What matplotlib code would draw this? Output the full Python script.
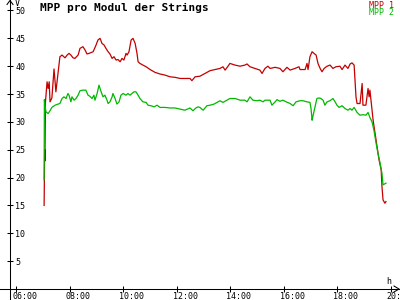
import matplotlib
matplotlib.use("Agg")
import matplotlib.pyplot as plt
from matplotlib.lines import Line2D
from matplotlib.transforms import ScaledTranslation

# ---- data ----
red_t = [7.05, 7.06, 7.07, 7.08, 7.10, 7.16, 7.20, 7.24, 7.27, 7.34, 7.42, 7.49, 7.57, 7.64, 7.72, 7.83,
         7.91, 7.98, 8.05, 8.13, 8.20, 8.32, 8.39, 8.50, 8.58, 8.65, 8.73, 8.88, 8.99, 9.06, 9.14, 9.21,
         9.29, 9.36, 9.44, 9.51, 9.59, 9.66, 9.74, 9.81, 9.89, 9.96, 10.03, 10.11, 10.15, 10.22, 10.30,
         10.37, 10.45, 10.52, 10.56, 10.63, 10.74, 10.86, 11.01, 11.19, 11.38, 11.57, 11.75, 11.94, 12.13,
         12.31, 12.50, 12.57, 12.69, 12.87, 13.06, 13.25, 13.43, 13.62, 13.73, 13.81, 13.92, 13.99, 14.18,
         14.37, 14.55, 14.63, 14.74, 14.93, 15.11, 15.19, 15.30, 15.41, 15.49, 15.68, 15.86, 15.97, 16.12,
         16.24, 16.42, 16.57, 16.61, 16.80, 16.87, 16.91, 16.98, 17.06, 17.13, 17.21, 17.28, 17.36, 17.43,
         17.51, 17.62, 17.73, 17.84, 17.95, 18.10, 18.18, 18.29, 18.40, 18.48, 18.55, 18.63, 18.70, 18.74,
         18.85, 18.93, 18.96, 19.07, 19.15, 19.19, 19.22, 19.30, 19.34, 19.41, 19.49, 19.56, 19.64, 19.67,
         19.71, 19.78, 19.82]
red_v = [15.0, 19.6, 25.0, 23.0, 33.6, 37.2, 36.0, 37.2, 33.6, 34.3, 39.5, 35.4, 38.8, 41.7, 42.0, 41.5,
         42.0, 42.3, 42.0, 41.5, 41.4, 42.0, 43.2, 43.5, 42.9, 42.2, 42.3, 42.6, 43.8, 44.7, 45.0, 44.1,
         43.8, 43.2, 42.6, 42.2, 41.4, 41.7, 41.1, 41.2, 40.8, 41.4, 41.1, 42.3, 42.0, 42.6, 44.7,
         45.0, 44.1, 42.3, 40.8, 40.5, 40.2, 39.9, 39.4, 38.9, 38.6, 38.4, 38.1, 38.0, 37.8,
         37.8, 37.8, 37.4, 38.1, 38.2, 38.7, 39.2, 39.4, 39.6, 39.9, 39.3, 40.0, 40.5, 40.2,
         40.0, 40.2, 40.4, 39.9, 39.6, 39.3, 38.7, 39.6, 40.0, 39.6, 39.8, 39.6, 39.0, 39.8,
         39.3, 39.6, 39.9, 39.4, 39.4, 40.5, 39.4, 41.7, 42.6, 42.3, 42.0, 40.5, 39.6, 39.0,
         39.6, 40.0, 40.2, 39.6, 39.9, 40.0, 39.4, 40.2, 39.6, 40.4, 40.6, 40.2, 34.5, 33.3,
         33.3, 36.9, 33.0, 33.0, 36.0, 34.5, 35.7, 32.1, 30.3, 28.0, 25.5, 23.2, 21.4, 18.4,
         16.0, 15.4, 15.7]

green_t = [7.05, 7.06, 7.08, 7.12, 7.20, 7.27, 7.34, 7.46, 7.57, 7.64, 7.72, 7.79, 7.87, 7.94, 7.98, 8.05,
           8.09, 8.17, 8.24, 8.32, 8.39, 8.50, 8.61, 8.69, 8.76, 8.84, 8.91, 8.95, 9.03, 9.10, 9.18, 9.25,
           9.32, 9.40, 9.44, 9.51, 9.59, 9.62, 9.70, 9.77, 9.85, 9.92, 10.00, 10.11, 10.18, 10.26, 10.33,
           10.41, 10.48, 10.56, 10.63, 10.74, 10.86, 10.93, 11.04, 11.16, 11.27, 11.38, 11.57, 11.75, 11.94,
           12.13, 12.31, 12.50, 12.61, 12.72, 12.80, 12.87, 12.99, 13.13, 13.25, 13.40, 13.55, 13.62, 13.73,
           13.88, 13.99, 14.18, 14.37, 14.55, 14.63, 14.74, 14.85, 15.00, 15.11, 15.23, 15.30, 15.49, 15.56,
           15.68, 15.75, 15.86, 15.97, 16.09, 16.24, 16.35, 16.46, 16.61, 16.72, 16.87, 16.98, 17.02, 17.06,
           17.09, 17.17, 17.24, 17.32, 17.39, 17.47, 17.54, 17.62, 17.73, 17.84, 17.92, 17.99, 18.07, 18.18,
           18.29, 18.40, 18.48, 18.55, 18.63, 18.74, 18.85, 18.96, 19.07, 19.15, 19.22, 19.30, 19.37, 19.45,
           19.52, 19.60, 19.67, 19.71, 19.78, 19.82]
green_v = [19.6, 34.0, 33.0, 31.8, 31.5, 32.0, 32.6, 33.0, 33.2, 33.3, 34.2, 34.5, 34.2, 35.1, 34.8, 33.6,
           34.5, 33.9, 34.2, 34.8, 35.6, 35.7, 35.7, 34.8, 34.6, 34.2, 34.8, 33.9, 35.1, 36.6, 35.4, 34.5,
           34.8, 33.9, 33.3, 33.6, 34.5, 35.1, 34.2, 33.2, 33.6, 34.8, 35.1, 34.8, 35.1, 34.8, 35.1,
           35.4, 35.4, 34.8, 34.2, 33.6, 33.5, 33.0, 32.9, 32.7, 33.0, 32.6, 32.6, 32.5, 32.5,
           32.3, 32.1, 32.5, 32.0, 32.5, 32.7, 32.6, 32.1, 32.9, 33.0, 33.2, 33.6, 33.8, 33.5,
           33.9, 34.2, 34.2, 33.9, 33.9, 33.6, 34.5, 33.9, 33.8, 33.9, 33.6, 33.9, 33.9, 33.0,
           33.6, 34.0, 33.7, 33.9, 33.6, 33.3, 32.9, 33.6, 33.8, 33.8, 33.6, 33.5, 32.4, 30.3,
           31.0, 32.7, 34.2, 34.3, 34.2, 33.9, 33.0, 33.6, 33.8, 34.2, 33.6, 33.0, 32.6, 32.9,
           32.4, 32.1, 32.4, 32.1, 32.6, 31.7, 31.2, 31.3, 31.2, 31.7, 30.8, 30.0, 28.5, 26.2,
           24.4, 22.6, 20.8, 18.7, 18.9, 19.0]

x_ticks = [6, 8, 10, 12, 14, 16, 18, 20]
x_labels = ["06:00", "08:00", "10:00", "12:00", "14:00", "16:00", "18:00", "20:00"]
y_ticks = [5, 10, 15, 20, 25, 30, 35, 40, 45, 50]
y_labels = ["5", "10", "15", "20", "25", "30", "35", "40", "45", "50"]
series_names = ["MPP 1", "MPP 2"]
title = "MPP pro Modul der Strings"

RED = "#c40000"
GREEN = "#00b800"
MONO = "DejaVu Sans Mono"

fig = plt.figure(figsize=(4, 3), dpi=100)
fig.patch.set_facecolor("white")
ax = fig.add_axes([0, 0, 1, 1])
ax.set_facecolor("white")
ax.set_xlim(5.402, 20.344)
ax.set_ylim(-1.975, 51.885)

y_axis_x = 5.776
for s in ["top", "left"]:
    ax.spines[s].set_visible(False)
ax.spines["right"].set_position(("data", y_axis_x))
ax.spines["bottom"].set_position(("data", 0))
ax.spines["right"].set_linewidth(0.75)
ax.spines["bottom"].set_linewidth(0.75)
ax.yaxis.tick_right()
ax.set_yticks(y_ticks)
ax.set_yticklabels(y_labels, fontfamily=MONO, fontsize=6)
ax.set_xticks(x_ticks)
ax.set_xticklabels([])
ax.tick_params(axis="both", direction="inout", length=4.3, width=0.75, color="black")
ax.tick_params(axis="y", pad=1.5)

ax.plot(red_t, red_v, color=RED, lw=0.9)
ax.plot(green_t, green_v, color=GREEN, lw=0.9)

off = ScaledTranslation(-4 / 100, -3.5 / 100, fig.dpi_scale_trans)
for t, lab in zip(x_ticks, x_labels):
    ax.text(t, 0, lab, transform=ax.transData + off, ha="left", va="top",
            fontfamily=MONO, fontsize=6)

# axis arrows
W, H = 400, 300
def seg(pts):
    fig.add_artist(Line2D([p[0] / W for p in pts], [1 - p[1] / H for p in pts],
                          transform=fig.transFigure, color="black", lw=0.75))
seg([(7, 4.5), (10, 0.5), (13, 4.5)])
seg([(394, 286), (399, 289), (394, 292)])

fig.text(15 / W, 1 - 3.5 / H, "V", fontfamily=MONO, fontsize=6, ha="left", va="center")
fig.text(386 / W, 1 - 281.5 / H, "h", fontfamily=MONO, fontsize=6, ha="left", va="center")
fig.text(40 / W, 1 - 7.5 / H, title, fontfamily=MONO, fontsize=8, fontweight="bold",
         ha="left", va="center")
fig.text(394 / W, 1 - 5 / H, series_names[0], fontfamily=MONO, fontsize=6, color=RED,
         ha="right", va="center")
fig.text(394 / W, 1 - 12.5 / H, series_names[1], fontfamily=MONO, fontsize=6, color=GREEN,
         ha="right", va="center")

fig.savefig("out.png", dpi=100, facecolor="white")
